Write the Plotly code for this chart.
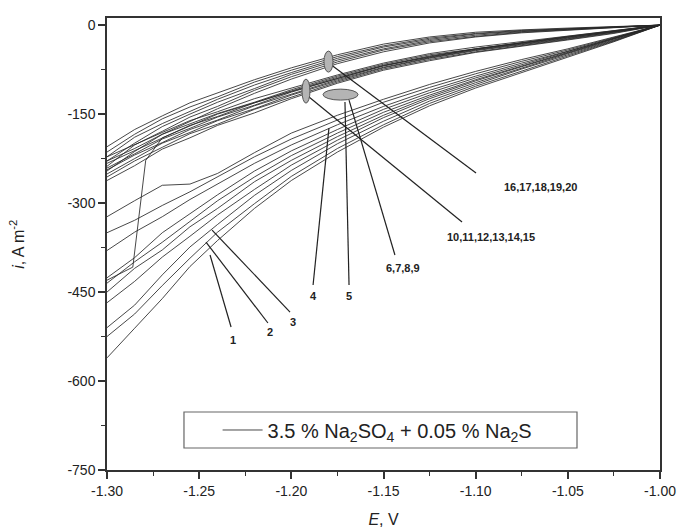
import plotly.graph_objects as go

# ---------------- data ----------------
E_GRID = [-1.00, -1.025, -1.05, -1.075, -1.10, -1.125, -1.15, -1.175, -1.20, -1.22, -1.24, -1.255, -1.27, -1.285, -1.30]

# upper band (curves 16-20)
band_a = [
    [0, -2, -5, -8, -12, -20, -32, -50, -72, -92, -115, -131, -153, -176, -205],
    [0, -3, -6, -9, -14, -22, -35, -53, -76, -96, -121, -138, -158, -184, -214],
    [0, -3, -6, -10, -15, -24, -37, -56, -80, -101, -125, -145, -166, -189, -222],
    [0, -3, -7, -11, -17, -26, -40, -59, -83, -107, -130, -150, -171, -199, -229],
    [0, -4, -8, -12, -19, -28, -42, -62, -87, -110, -137, -155, -179, -202, -238],
    [0, -4, -8, -13, -20, -30, -45, -65, -91, -115, -141, -163, -184, -213, -246],
]

# middle band (curves 6-15)
band_b = [
    [0, -9, -18, -28, -37, -48, -64, -84, -106, -124, -146, -161, -181, -201, -222],
    [0, -10, -19, -29, -39, -50, -66, -86, -109, -130, -149, -167, -184, -208, -229],
    [0, -11, -20, -30, -40, -52, -68, -88, -111, -131, -154, -169, -190, -211, -233],
    [0, -11, -21, -31, -41, -53, -69, -90, -113, -135, -155, -174, -192, -217, -241],
    [0, -12, -22, -32, -42, -55, -71, -92, -116, -136, -160, -176, -198, -219, -244],
    [0, -12, -23, -33, -43, -56, -72, -94, -118, -141, -161, -181, -199, -225, -251],
    [0, -13, -24, -34, -45, -58, -74, -96, -121, -142, -167, -183, -206, -229, -256],
    [0, -14, -25, -35, -46, -60, -76, -98, -124, -148, -169, -190, -209, -237, -262],
]

# lower family (curves 1-5)
band_c = [
    [0, -20, -40, -58, -78, -100, -125, -152, -182, -215, -250, -268, -270, -296, -323],
    [0, -21, -42, -61, -82, -105, -130, -160, -192, -222, -255, -281, -304, -329, -350],
    [0, -22, -44, -64, -86, -110, -137, -168, -202, -233, -268, -294, -323, -349, -380],
    [0, -22, -45, -66, -89, -114, -142, -176, -212, -246, -286, -318, -350, -392, -426],
    [0, -23, -46, -68, -92, -118, -147, -182, -220, -256, -296, -331, -366, -399, -435],
    [0, -24, -47, -70, -94, -121, -152, -188, -228, -264, -309, -340, -379, -410, -450],
    [0, -25, -48, -72, -97, -124, -156, -194, -236, -277, -320, -356, -391, -432, -468],
    [0, -26, -50, -74, -100, -128, -162, -200, -245, -287, -336, -374, -421, -472, -510],
    [0, -27, -52, -77, -103, -132, -168, -208, -255, -301, -349, -393, -439, -487, -525],
    [0, -28, -54, -80, -106, -136, -172, -214, -262, -309, -363, -407, -461, -511, -561],
]

# curve with a sudden drop near -1.28 V
drop_E = [-1.00, -1.05, -1.10, -1.15, -1.20, -1.24, -1.27, -1.279, -1.286, -1.30]
drop_i = [0, -19, -40, -68, -112, -150, -190, -228, -408, -430]

legend_name = "3.5 % Na<sub>2</sub>SO<sub>4</sub> + 0.05 % Na<sub>2</sub>S"

x_tickvals = [-1.30, -1.25, -1.20, -1.15, -1.10, -1.05, -1.00]
x_ticktext = ["-1.30", "-1.25", "-1.20", "-1.15", "-1.10", "-1.05", "-1.00"]
y_tickvals = [0, -150, -300, -450, -600, -750]
y_ticktext = ["0", "-150", "-300", "-450", "-600", "-750"]

# callout labels: text, text position, line start, line end (data coords)
labels = ["1", "2", "3", "4", "5", "6,7,8,9", "10,11,12,13,14,15", "16,17,18,19,20"]
label_E = [-1.2316, -1.2116, -1.1991, -1.1882, -1.1687, -1.1394, -1.0917, -1.0646]
label_i = [-531, -517, -500.6, -457, -457, -409.6, -357.3, -273]
line_E0 = [-1.2327, -1.2127, -1.2007, -1.1882, -1.1687, -1.1438, -1.1074, -1.0998]
line_i0 = [-509, -502.2, -483.7, -438.2, -438.2, -387.6, -332, -249.4]
line_E1 = [-1.2441, -1.2463, -1.2430, -1.1796, -1.1709, -1.1687, -1.1904, -1.1790]
line_i1 = [-387.6, -365.7, -345.5, -173.6, -129.8, -126.4, -121.3, -65.7]

# marker ellipses (E0, E1, i0, i1)
ell_E0 = [-1.1823, -1.1942, -1.1828]
ell_E1 = [-1.1774, -1.1899, -1.1638]
ell_i0 = [-79.2, -131.5, -126.4]
ell_i1 = [-43.8, -91.0, -107.9]

# ---------------- figure ----------------
fig = go.Figure()
line_style = dict(color="rgba(40,40,40,0.85)", width=1)

first = True
for group in (band_c, band_b, band_a):
    for vals in group:
        fig.add_trace(go.Scatter(x=E_GRID, y=vals, mode="lines", line=line_style,
                                 name=legend_name, showlegend=first, legendgroup="g"))
        first = False
fig.add_trace(go.Scatter(x=drop_E, y=drop_i, mode="lines", line=line_style,
                         showlegend=False, legendgroup="g"))

shapes = []
for e0, e1, i0, i1 in zip(line_E0, line_E1, line_i0, line_i1):
    shapes.append(dict(type="line", xref="x", yref="y", x0=e0, y0=i0, x1=e1, y1=i1,
                       line=dict(color="#222", width=1.2)))
for e0, e1, i0, i1 in zip(ell_E0, ell_E1, ell_i0, ell_i1):
    shapes.append(dict(type="circle", xref="x", yref="y", x0=e0, x1=e1, y0=i0, y1=i1,
                       fillcolor="#b4b4b4", line=dict(color="#555", width=1)))
# legend frame
shapes.append(dict(type="rect", xref="paper", yref="paper", x0=0.1392, x1=0.8499,
                   y0=0.0487, y1=0.1283, line=dict(color="#666", width=1.2),
                   fillcolor="rgba(0,0,0,0)"))

annotations = []
for t, e, i in zip(labels, label_E, label_i):
    annotations.append(dict(x=e, y=i, xref="x", yref="y", text=t,
                            showarrow=False,
                            font=dict(size=11, color="#222", weight="bold",
                                      family="Liberation Sans, Arial")))
# y-axis title placed as annotation for exact position
annotations.append(dict(x=-0.163, y=0.5, xref="paper", yref="paper",
                        xanchor="center", yanchor="middle",
                        text="<i>i</i>, A m<sup>-2</sup>", textangle=-90, showarrow=False,
                        font=dict(size=16, color="#222", family="Liberation Sans, Arial")))

fig.update_layout(
    width=682, height=532,
    margin=dict(l=107, r=22, t=18, b=62),
    paper_bgcolor="white", plot_bgcolor="white",
    font=dict(family="Liberation Sans, Arial", color="#222", size=14),
    shapes=shapes, annotations=annotations,
    showlegend=True,
    legend=dict(x=0.2, y=0.0885, xanchor="left", yanchor="middle",
                bgcolor="rgba(0,0,0,0)", borderwidth=0,
                font=dict(size=20, color="#222"), itemwidth=40),
    xaxis=dict(range=[-1.30, -1.00], tickvals=x_tickvals, ticktext=x_ticktext,
               ticks="outside", ticklen=7, tickwidth=1.5, tickcolor="#333",
               minor=dict(dtick=0.025, tick0=-1.30, ticks="outside", ticklen=4,
                          tickwidth=1.2, tickcolor="#333"),
               showline=True, linecolor="#333", linewidth=1.5, mirror=True,
               showgrid=False, zeroline=False, automargin=False,
               title=dict(text="<i>E</i>, V", font=dict(size=16), standoff=16),
               tickfont=dict(size=14)),
    yaxis=dict(range=[-750, 12], tickvals=y_tickvals, ticktext=y_ticktext,
               ticks="outside", ticklen=7, tickwidth=1.5, tickcolor="#333",
               minor=dict(dtick=75, tick0=0, ticks="outside", ticklen=4,
                          tickwidth=1.2, tickcolor="#333"),
               showline=True, linecolor="#333", linewidth=1.5, mirror=True,
               showgrid=False, zeroline=False, automargin=False,
               tickfont=dict(size=14)),
)

fig.write_html("out.html")
